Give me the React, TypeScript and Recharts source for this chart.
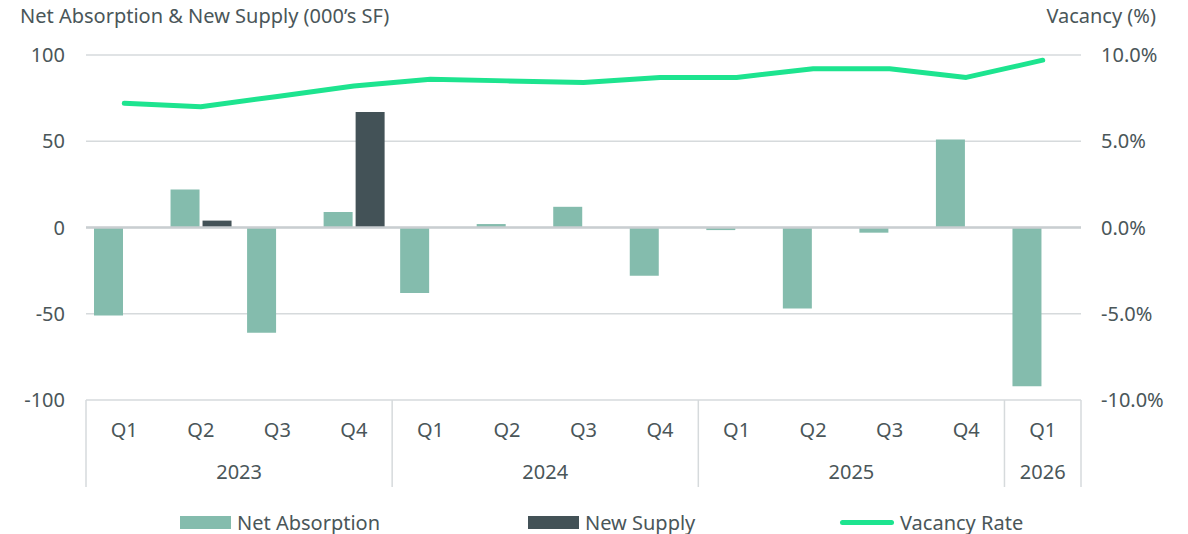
import {
  ComposedChart,
  Bar,
  Line,
  XAxis,
  YAxis,
  CartesianGrid,
  ReferenceLine,
  Legend,
} from 'recharts';

const quarters = ['Q1', 'Q2', 'Q3', 'Q4', 'Q1', 'Q2', 'Q3', 'Q4', 'Q1', 'Q2', 'Q3', 'Q4', 'Q1'];
const years = ['2023', '2023', '2023', '2023', '2024', '2024', '2024', '2024', '2025', '2025', '2025', '2025', '2026'];
const netAbsorption = [-51, 22, -61, 9, -38, 2, 12, -28, -1.5, -47, -3, 51, -92];
const newSupply = [null, 4, null, 67, null, null, null, null, null, null, null, null, null];
const vacancyRate = [7.2, 7.0, 7.6, 8.2, 8.6, 8.5, 8.4, 8.7, 8.7, 9.2, 9.2, 8.7, 9.7];

const leftTicks = [-100, -50, 0, 50, 100];
const rightTicks = [-10, -5, 0, 5, 10];

const TEXT = '#4a5659';
const GRID = '#d6dadc';
const C_ABS = '#84bcad';
const C_SUP = '#435257';
const C_VAC = '#1de48f';
const FS = 20;

const data = quarters.map((q, i) => ({
  quarter: q,
  year: years[i],
  netAbsorption: netAbsorption[i],
  newSupply: newSupply[i],
  vacancy: vacancyRate[i],
}));

function QuarterTick(props: any) {
  const { x, y, payload } = props;
  const i = props.index ?? payload.index;
  const half = payload.offset ?? 0;
  const yr = years[i];
  const isFirst = i === 0 || years[i - 1] !== yr;
  const isLast = i === years.length - 1;
  let count = 0;
  for (let j = i; j < years.length && years[j] === yr; j++) count++;
  return (
    <g>
      <text x={x} y={y + 30} dy="0.35em" textAnchor="middle" fill={TEXT} fontSize={FS}>
        {payload.value}
      </text>
      {isFirst && (
        <line x1={x - half} x2={x - half} y1={y} y2={y + 87} stroke={GRID} strokeWidth={1.5} />
      )}
      {isFirst && (
        <text x={x - half + count * half} y={y + 72} dy="0.35em" textAnchor="middle" fill={TEXT} fontSize={FS}>
          {yr}
        </text>
      )}
      {isLast && (
        <line x1={x + half} x2={x + half} y1={y} y2={y + 87} stroke={GRID} strokeWidth={1.5} />
      )}
    </g>
  );
}

const legendItems = [
  { name: 'Net Absorption', color: C_ABS, kind: 'bar', left: 180 },
  { name: 'New Supply', color: C_SUP, kind: 'bar', left: 528 },
  { name: 'Vacancy Rate', color: C_VAC, kind: 'line', left: 840 },
];

function LegendContent() {
  return (
    <div style={{ position: 'relative', height: 24 }}>
      {legendItems.map((it) => (
        <div
          key={it.name}
          style={{
            position: 'absolute',
            left: it.left,
            top: 0,
            height: 24,
            display: 'flex',
            alignItems: 'center',
            color: TEXT,
            fontSize: FS,
            whiteSpace: 'nowrap',
          }}
        >
          <span
            style={{
              display: 'inline-block',
              width: it.kind === 'bar' ? 51 : 54,
              height: it.kind === 'bar' ? 13 : 5,
              borderRadius: it.kind === 'bar' ? 0 : 3,
              background: it.color,
              marginRight: 6,
            }}
          />
          {it.name}
        </div>
      ))}
    </div>
  );
}

export default function App() {
  return (
    <div
      style={{
        position: 'absolute',
        left: 0,
        top: 0,
        width: 1188,
        height: 534,
        background: '#fff',
        fontFamily: '"Noto Sans", sans-serif',
      }}
    >
      <div style={{ position: 'absolute', left: 20, top: 2, fontSize: FS, color: TEXT }}>
        Net Absorption &amp; New Supply (000’s SF)
      </div>
      <div style={{ position: 'absolute', right: 32, top: 2, fontSize: FS, color: TEXT }}>
        Vacancy (%)
      </div>
      <ComposedChart
        width={1188}
        height={534}
        data={data}
        margin={{ top: 55, right: 0, bottom: 0, left: 0 }}
        barSize={29}
        barGap={3}
      >
        <CartesianGrid vertical={false} stroke={GRID} strokeWidth={1.3} />
        <XAxis
          dataKey="quarter"
          interval={0}
          height={110}
          axisLine={false}
          tickLine={false}
          tickSize={0}
          tickMargin={0}
          tick={<QuarterTick />}
        />
        <YAxis
          yAxisId={0}
          domain={[-100, 100]}
          ticks={leftTicks}
          width={86}
          axisLine={false}
          tickLine={false}
          tickSize={0}
          tickMargin={21}
          tick={{ fill: TEXT, fontSize: FS }}
        />
        <YAxis
          yAxisId="right"
          orientation="right"
          domain={[-10, 10]}
          ticks={rightTicks}
          width={107}
          axisLine={false}
          tickLine={false}
          tickSize={0}
          tickMargin={20}
          tick={{ fill: TEXT, fontSize: FS, textAnchor: 'start' }}
          tickFormatter={(v: number) => `${v.toFixed(1)}%`}
        />
        <ReferenceLine y={0} stroke="#c9ced1" strokeWidth={2.5} />
        <Bar dataKey="netAbsorption" name="Net Absorption" fill={C_ABS} isAnimationActive={false} />
        <Bar dataKey="newSupply" name="New Supply" fill={C_SUP} isAnimationActive={false} />
        <Line
          yAxisId="right"
          type="linear"
          dataKey="vacancy"
          name="Vacancy Rate"
          stroke={C_VAC}
          strokeWidth={5}
          strokeLinecap="round"
          strokeLinejoin="round"
          dot={false}
          activeDot={false}
          isAnimationActive={false}
        />
        <Legend verticalAlign="bottom" content={<LegendContent />} />
      </ComposedChart>
    </div>
  );
}
